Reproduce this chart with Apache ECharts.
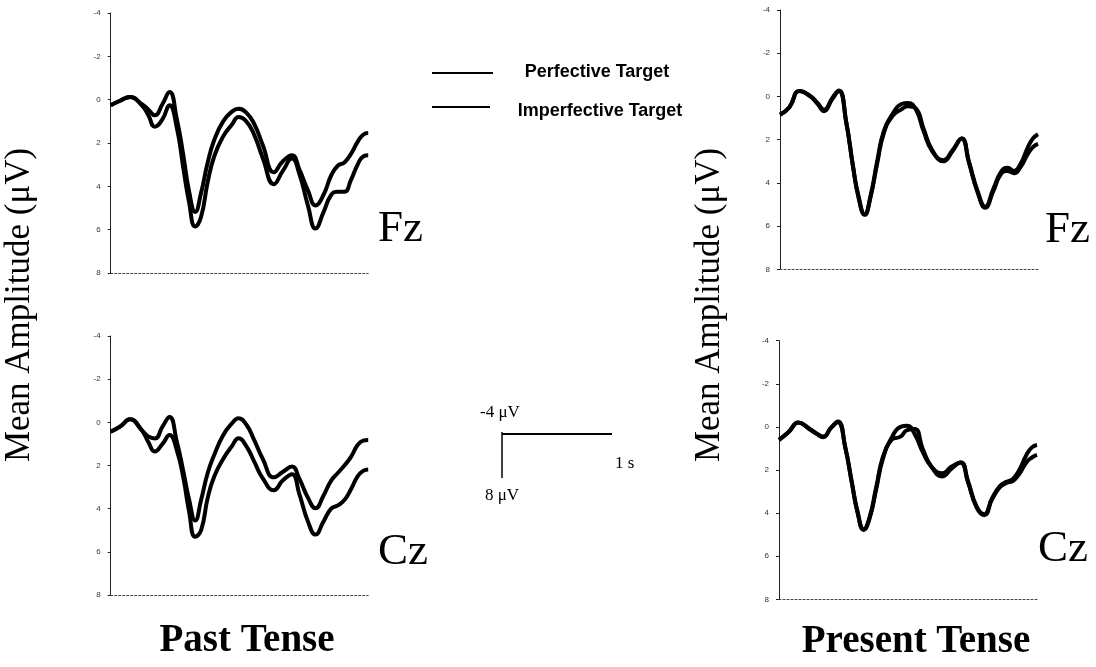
<!DOCTYPE html>
<html>
<head>
<meta charset="utf-8">
<script src="https://cdn.jsdelivr.net/npm/echarts@6/dist/echarts.min.js"></script>
<style>
html,body{margin:0;padding:0;background:#fff;}
#chart{width:1096px;height:667px;}
</style>
</head>
<body>
<div id="chart"></div>
<script>
// time (ms from start of plotted epoch)
const times = [0, 85, 176, 280, 340, 400, 470, 533, 600, 660, 710, 767, 820, 880, 940, 1020, 1100, 1160, 1230, 1300, 1380, 1480, 1560, 1645, 1710, 1790, 1858, 1930, 2000, 2060, 2120, 2180, 2240, 2290, 2336];
const yTicks = [-4, -2, 0, 2, 4, 6, 8];
const seriesNames = ['Perfective Target', 'Imperfective Target'];

// Past tense, Fz
const pastFzPerf   = [0.26, 0.05, -0.12, 0.2, 0.45, 0.72, 0.2, -0.35, 0.9, 2.6, 4.2, 5.18, 4.3, 2.9, 1.85, 1.0, 0.55, 0.42, 0.6, 1.1, 2.1, 3.35, 2.85, 2.57, 3.2, 4.2, 4.88, 4.4, 3.5, 3.05, 2.9, 2.5, 1.95, 1.62, 1.54];
const pastFzImperf = [0.26, 0.05, -0.12, 0.25, 0.7, 1.25, 0.9, 0.26, 1.3, 3.2, 4.7, 5.85, 5.4, 3.8, 2.6, 1.7, 1.15, 0.8, 1.0, 1.6, 2.7, 3.9, 3.3, 2.72, 3.4, 4.9, 5.95, 5.2, 4.4, 4.25, 4.25, 3.7, 3.0, 2.62, 2.57];
// Past tense, Cz
const pastCzPerf   = [0.43, 0.2, -0.14, 0.35, 0.65, 0.75, 0.2, -0.25, 0.9, 2.3, 3.55, 4.55, 3.6, 2.35, 1.5, 0.6, 0.05, -0.19, 0.1, 0.8, 1.7, 2.55, 2.3, 2.05, 2.6, 3.5, 3.98, 3.4, 2.7, 2.35, 2.0, 1.6, 1.05, 0.85, 0.82];
const pastCzImperf = [0.43, 0.2, -0.14, 0.35, 0.9, 1.35, 1.0, 0.59, 1.3, 2.6, 4.1, 5.3, 5.0, 3.5, 2.5, 1.7, 1.1, 0.74, 1.1, 1.8, 2.6, 3.15, 2.7, 2.4, 3.3, 4.6, 5.2, 4.6, 4.0, 3.85, 3.6, 3.1, 2.5, 2.25, 2.18];
// Present tense, Fz
const presFzPerf   = [0.85, 0.5, -0.25, 0.0, 0.3, 0.62, 0.1, -0.28, 1.2, 3.2, 4.6, 5.45, 4.6, 3.0, 1.6, 0.8, 0.35, 0.3, 0.6, 1.6, 2.55, 2.95, 2.5, 1.95, 3.0, 4.4, 5.1, 4.3, 3.5, 3.3, 3.45, 3.1, 2.4, 1.95, 1.75];
const presFzImperf = [0.85, 0.5, -0.25, 0.02, 0.35, 0.68, 0.15, -0.25, 1.2, 3.2, 4.65, 5.48, 4.65, 3.1, 1.7, 0.9, 0.6, 0.45, 0.55, 1.5, 2.5, 3.0, 2.55, 1.95, 3.05, 4.45, 5.15, 4.4, 3.6, 3.45, 3.55, 3.25, 2.7, 2.35, 2.2];
// Present tense, Cz
const presCzPerf   = [0.6, 0.25, -0.2, 0.1, 0.3, 0.45, 0.05, -0.25, 0.95, 2.6, 3.9, 4.75, 4.2, 2.8, 1.4, 0.5, 0.0, -0.05, 0.35, 1.15, 1.85, 2.15, 1.85, 1.65, 2.5, 3.7, 4.05, 3.3, 2.75, 2.55, 2.4, 1.95, 1.3, 0.95, 0.84];
const presCzImperf = [0.6, 0.25, -0.2, 0.12, 0.32, 0.48, 0.05, -0.22, 0.95, 2.6, 3.95, 4.78, 4.25, 2.9, 1.5, 0.6, 0.45, 0.15, 0.1, 1.0, 1.85, 2.3, 1.95, 1.65, 2.55, 3.75, 4.1, 3.35, 2.8, 2.6, 2.5, 2.15, 1.65, 1.42, 1.3];

const panels = [
  {grid: {left: 110.7, top: 13, width: 257.5, height: 260}, data: [pastFzPerf, pastFzImperf]},
  {grid: {left: 110.7, top: 336, width: 257.5, height: 259}, data: [pastCzPerf, pastCzImperf]},
  {grid: {left: 780, top: 10, width: 258, height: 259.3}, data: [presFzPerf, presFzImperf]},
  {grid: {left: 779, top: 340.7, width: 258, height: 258.6}, data: [presCzPerf, presCzImperf]}
];

const pair = arr => times.map((t, i) => [t, arr[i]]);

const grids = [], xAxes = [], yAxes = [], series = [];
panels.forEach((p, i) => {
  grids.push(Object.assign({containLabel: false}, p.grid));
  xAxes.push({
    type: 'value', gridIndex: i, min: 0, max: 2336,
    axisLine: {onZero: false, lineStyle: {color: '#444', width: 1, type: [2, 2]}},
    axisTick: {show: false}, axisLabel: {show: false}, splitLine: {show: false}
  });
  yAxes.push({
    type: 'value', gridIndex: i, inverse: true, min: yTicks[0], max: yTicks[yTicks.length - 1], interval: 2,
    axisLine: {show: true, onZero: false, lineStyle: {color: '#222', width: 1}},
    axisTick: {show: true, length: 3, lineStyle: {color: '#222'}},
    axisLabel: {fontSize: 8, color: '#333', margin: 10, fontFamily: 'Liberation Sans'},
    splitLine: {show: false}
  });
  p.data.forEach((arr, k) => {
    series.push({
      name: seriesNames[k], type: 'line', xAxisIndex: i, yAxisIndex: i,
      data: pair(arr), smooth: 0.5, showSymbol: false, symbol: 'none',
      lineStyle: {color: '#000', width: 4}, z: 3
    });
  });
});

const serif = 'Liberation Serif, Times New Roman, serif';
const txt = (text, x, y, font, align, extra) => Object.assign({
  type: 'text', x: x, y: y,
  style: {text: text, font: font, fill: '#000', textAlign: align || 'left', textVerticalAlign: 'middle'}
}, extra || {});

const graphic = [
  txt('Mean Amplitude (\u03bcV)', 20, 305, '35px ' + serif, 'center', {rotation: Math.PI / 2}),
  txt('Mean Amplitude (\u03bcV)', 710, 305, '35px ' + serif, 'center', {rotation: Math.PI / 2}),
  txt('Fz', 378, 229, '45px ' + serif, 'left'),
  txt('Cz', 378, 552, '45px ' + serif, 'left'),
  txt('Fz', 1045, 230, '45px ' + serif, 'left'),
  txt('Cz', 1038, 549, '45px ' + serif, 'left'),
  txt('Past Tense', 247, 641, 'bold 39px ' + serif, 'center'),
  txt('Present Tense', 916, 642, 'bold 39px ' + serif, 'center'),
  // legend
  {type: 'line', shape: {x1: 432, y1: 73, x2: 493, y2: 73}, style: {stroke: '#000', lineWidth: 2}},
  {type: 'line', shape: {x1: 432, y1: 107, x2: 490, y2: 107}, style: {stroke: '#000', lineWidth: 2}},
  txt(seriesNames[0], 597, 72, 'bold 18px Liberation Sans, Arial, sans-serif', 'center'),
  txt(seriesNames[1], 600, 111, 'bold 18px Liberation Sans, Arial, sans-serif', 'center'),
  // scale bar
  {type: 'line', shape: {x1: 502, y1: 434, x2: 612, y2: 434}, style: {stroke: '#000', lineWidth: 2}},
  {type: 'line', shape: {x1: 502, y1: 432, x2: 502, y2: 478}, style: {stroke: '#000', lineWidth: 1.5}},
  txt('-4 \u03bcV', 480, 413, '17px ' + serif, 'left'),
  txt('1 s', 615, 464, '17px ' + serif, 'left'),
  txt('8 \u03bcV', 485, 496, '17px ' + serif, 'left')
];

const chart = echarts.init(document.getElementById('chart'), null, {renderer: 'canvas'});
chart.setOption({
  animation: false,
  backgroundColor: '#fff',
  grid: grids, xAxis: xAxes, yAxis: yAxes, series: series,
  graphic: graphic
});
</script>
</body>
</html>
